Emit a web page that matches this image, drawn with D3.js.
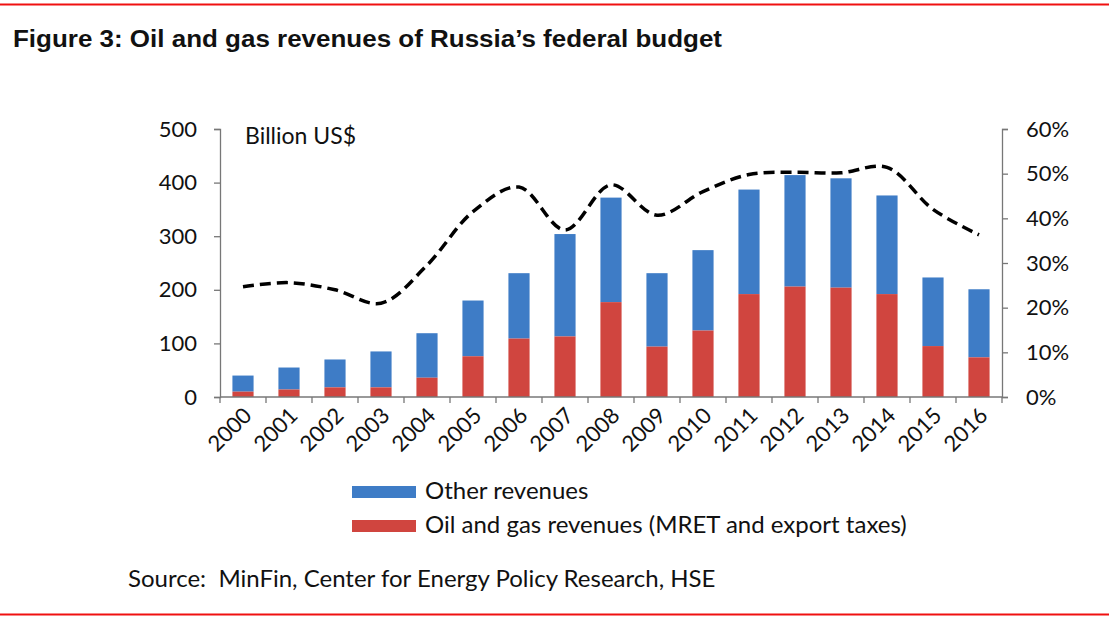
<!DOCTYPE html>
<meta charset="utf-8">
<style>
  body { margin: 0; background: #fff; }
  text { font-family: Lato, "Open Sans", sans-serif; fill: #111; }
  .title { font-family: "Liberation Sans", Arial, sans-serif; font-weight: bold; font-size: 23px; }
  .axis path, .axis line { stroke: #777; stroke-width: 1.3px; }
  .axis text { font-family: Lato, "Open Sans", sans-serif; font-size: 22px; fill: #111; }
</style>
<body>
<svg width="1109" height="617"></svg>
<script src="https://d3js.org/d3.v7.min.js"></script>
<script>

// values, billion US$ and % share
var years = ["2000","2001","2002","2003","2004","2005","2006","2007","2008",
             "2009","2010","2011","2012","2013","2014","2015","2016"];
var oilGas = [10, 14, 18, 18, 36, 76, 109, 113, 177, 94, 124, 192, 206, 204, 192, 95, 74];
var totalRev = [40, 55, 70, 85, 119, 180, 231, 304, 372, 231, 274, 387, 414, 408, 376, 223, 201];
var oilShare = [24.7, 25.6, 24.0, 21.0, 29.5, 41.5, 47.0, 37.4, 47.5, 40.7, 46.0, 49.8, 50.3, 50.2, 51.4, 42.0, 36.3];
var leftTicks = [0, 100, 200, 300, 400, 500];
var rightTicks = [0, 10, 20, 30, 40, 50, 60];

const svg = d3.select('svg'),
      width = +svg.attr('width'),
      height = +svg.attr('height');

const blue = '#3e7cc6', red = '#d0453f';

// red frame lines
svg.append('line').attr('x1', 0).attr('x2', width).attr('y1', 4.5).attr('y2', 4.5)
  .attr('stroke', '#f01010').attr('stroke-width', 2);
svg.append('line').attr('x1', 0).attr('x2', width).attr('y1', 614.5).attr('y2', 614.5)
  .attr('stroke', '#f01010').attr('stroke-width', 2);

svg.append('text').attr('class', 'title')
  .attr('x', 13).attr('y', 47)
  .attr('textLength', 709).attr('lengthAdjust', 'spacingAndGlyphs')
  .text('Figure 3: Oil and gas revenues of Russia\u2019s federal budget');

const x0 = 220, x1 = 1002, yTop = 129, yBot = 397;

const x = d3.scaleBand().domain(years).range([x0, x1]).paddingInner(0.54).paddingOuter(0.27);
const y = d3.scaleLinear().domain([0, 500]).range([yBot, yTop]);
const y2 = d3.scaleLinear().domain([0, 60]).range([yBot, yTop]);

// bars: other revenues on top of oil & gas
const g = svg.append('g');
g.selectAll('.other').data(years).enter().append('rect')
  .attr('x', d => x(d)).attr('width', x.bandwidth())
  .attr('y', (d, i) => y(totalRev[i]))
  .attr('height', (d, i) => y(oilGas[i]) - y(totalRev[i]))
  .attr('fill', blue);
g.selectAll('.oil').data(years).enter().append('rect')
  .attr('x', d => x(d)).attr('width', x.bandwidth())
  .attr('y', (d, i) => y(oilGas[i]))
  .attr('height', (d, i) => y(0) - y(oilGas[i]))
  .attr('fill', red);

// axes
svg.append('g').attr('class', 'axis')
  .attr('transform', 'translate(' + x0 + ',0)')
  .call(d3.axisLeft(y).tickValues(leftTicks).tickSize(6).tickSizeOuter(6).tickPadding(17));
svg.append('g').attr('class', 'axis')
  .attr('transform', 'translate(' + x1 + ',0)')
  .call(d3.axisRight(y2).tickValues(rightTicks).tickFormat(d => d + '%').tickSize(6).tickSizeOuter(6).tickPadding(18));

// bottom axis: ticks between categories
const xb = svg.append('g').attr('class', 'axis');
xb.append('line').attr('x1', x0).attr('x2', x1).attr('y1', yBot).attr('y2', yBot);
xb.selectAll('.tk').data(d3.range(years.length + 1)).enter().append('line')
  .attr('x1', i => x0 + i * x.step())
  .attr('x2', i => x0 + i * x.step())
  .attr('y1', yBot).attr('y2', yBot + 6);
xb.selectAll('.yl').data(years).enter().append('text')
  .attr('text-anchor', 'end')
  .attr('transform', d => 'translate(' + (x(d) + x.bandwidth() / 2 + 10) + ',' + (yBot + 20) + ') rotate(-45)')
  .text(d => d);

// dashed share line
const line = d3.line()
  .x((d, i) => x(years[i]) + x.bandwidth() / 2)
  .y(d => y2(d))
  .curve(d3.curveCatmullRom.alpha(0.5));
svg.append('path').datum(oilShare)
  .attr('d', line)
  .attr('fill', 'none')
  .attr('stroke', '#000')
  .attr('stroke-width', 3.5)
  .attr('stroke-dasharray', '11,6');

svg.append('text').attr('x', 245).attr('y', 144).style('font-size', '23px').text('Billion US$');

// legend
const legend = [["Other revenues", blue], ["Oil and gas revenues (MRET and export taxes)", red]];
const lg = svg.append('g');
legend.forEach(function(d, i) {
  lg.append('rect').attr('x', 352).attr('y', 486 + i * 34).attr('width', 64).attr('height', 12).attr('fill', d[1]);
  lg.append('text').attr('x', 425).attr('y', 499 + i * 34).style('font-size', '24px').text(d[0]);
});

svg.append('text').attr('x', 128).attr('y', 587).style('font-size', '24px')
  .text('Source:\u00a0 MinFin, Center for Energy Policy Research, HSE');

</script>
